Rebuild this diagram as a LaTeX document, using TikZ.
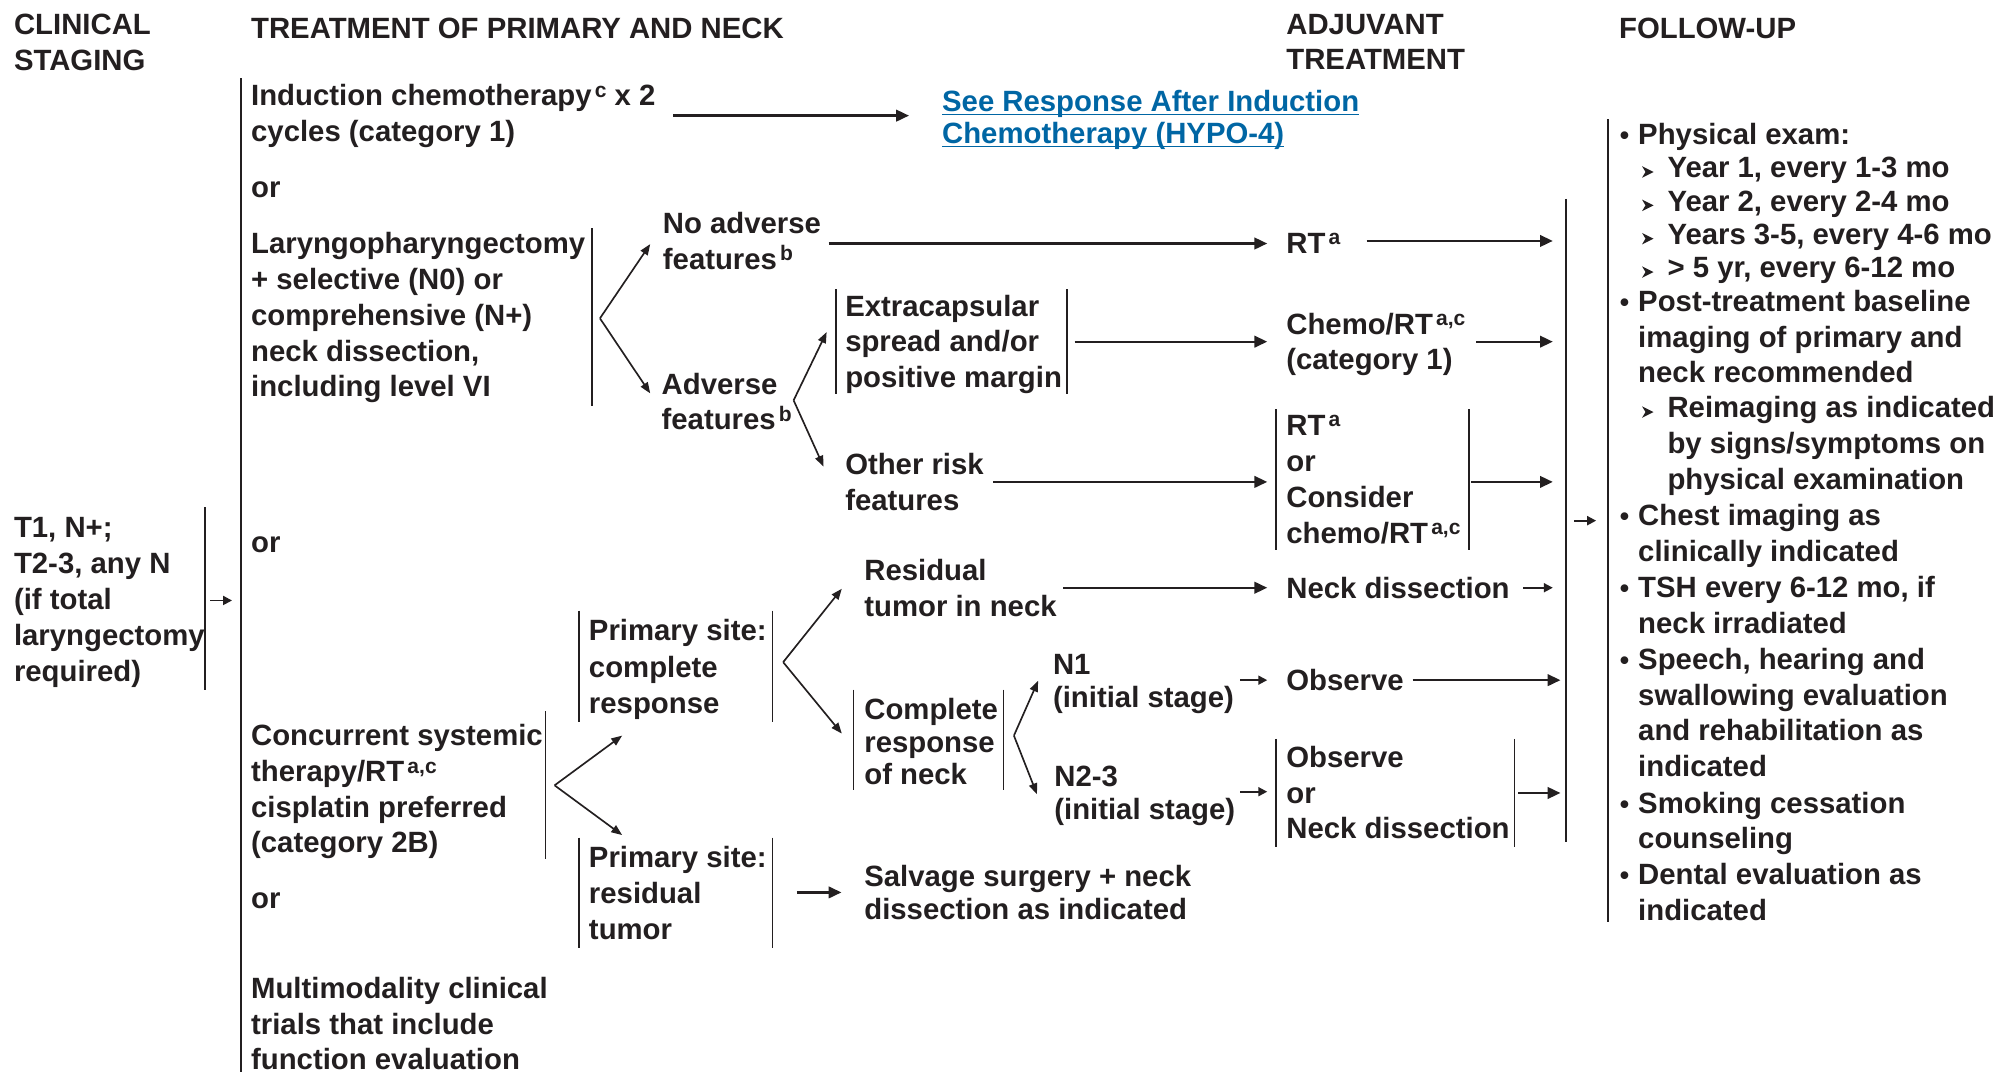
\documentclass[tikz,border=0pt]{standalone}
\usepackage{fontspec}
\setmainfont{Liberation Sans}
\usetikzlibrary{arrows.meta}
\definecolor{ink}{HTML}{231F20}
\definecolor{lnk}{RGB}{0,102,164}
\newcommand\sps[1]{\kern2.5pt\raisebox{6.5pt}{\fontsize{16.5}{16.5}\selectfont #1}}
\newcommand\bul{\llap{\fontsize{21}{21}\selectfont •\kern7pt}}
\newcommand\subarr[2]{\fill[ink] ([shift={(-11,#2)}]#1.north west) -- ++(-9,-4.5) -- ++(2.7,4.5) -- ++(-2.7,4.5) -- cycle;}
\begin{document}
\begin{tikzpicture}[x=1pt,y=-1pt,
 txbase/.style={anchor=north west,inner sep=0pt,outer sep=0pt,align=left,text=ink,
   font=\fontsize{23}{#1}\selectfont\bfseries,execute at begin node={\rule{0pt}{19.6pt}}},
 tx/.style={txbase=#1,yshift=16.6pt},
 tx/.default=28,
 txs/.style={txbase=28,yshift=19.6pt},
 lk/.style={anchor=base west,inner sep=0pt,outer sep=0pt,text=lnk,font=\fontsize{23}{28}\selectfont\bfseries},
 bar/.style={draw=ink,line width=1.3pt},
 arr/.style={draw=ink,line width=1.8pt,-{Triangle[length=10pt,width=9pt]}},
 sarr/.style={draw=ink,line width=1.5pt,-{Triangle[length=7pt,width=7pt]}},
 farr/.style={draw=ink,line width=1.3pt,-{Triangle[length=8.5pt,width=6.5pt]}},
]
\fill[white] (0,0) rectangle (1568,841);
\useasboundingbox (0,0) rectangle (1568,841);

% headers
\node[tx] (h1) at (11,27.5) {CLINICAL\\STAGING};
\node[txs] (h2) at (197,30.5) {TREATMENT OF PRIMARY AND NECK};
\node[tx] (h3) at (1009,27.5) {ADJUVANT\\TREATMENT};
\node[txs] (h4) at (1270,30.5) {FOLLOW-UP};

% staging
\node[tx=28.3] (stage) at (11,422.4) {T1, N+;\\T2-3, any N\\(if total\\laryngectomy\\required)};

% primary treatment options
\node[tx] (ind) at (197,83) {Induction chemotherapy\sps{c} x 2\\cycles (category 1)};
\node[lk] (see1) at (739,87.5) {See Response After Induction};
\node[lk] (see2) at (739,112.5) {Chemotherapy (HYPO-4)};
\draw[lnk,line width=1.1pt] ([yshift=-2.3pt]see1.base west) -- ([yshift=-2.3pt]see1.base east);
\draw[lnk,line width=1.1pt] ([yshift=-2.3pt]see2.base west) -- ([yshift=-2.3pt]see2.base east);
\node[txs] (or1) at (197,155) {or};
\node[tx=28.2] (lar) at (197,198.5) {Laryngopharyngectomy\\+ selective (N0) or\\comprehensive (N+)\\neck dissection,\\including level VI};
\node[tx] (noadv) at (520,183) {No adverse\\features\sps{b}};
\node[tx] (adv) at (519,309) {Adverse\\features\sps{b}};
\node[tx] (ext) at (663,248) {Extracapsular\\spread and/or\\positive margin};
\node[tx] (other) at (663,372) {Other risk\\features};
\node[txs] (rt1) at (1009,198.5) {RT\sps{a}};
\node[tx] (chemo) at (1009,262) {Chemo/RT\sps{a,c}\\(category 1)};
\node[tx=28.3] (rtor) at (1009,342) {RT\sps{a}\\or\\Consider\\chemo/RT\sps{a,c}};
\node[txs] (or2) at (197,433) {or};
\node[tx] (conc) at (197,585) {Concurrent systemic\\therapy/RT\sps{a,c}\\cisplatin preferred\\(category 2B)};
\node[txs] (or3) at (197,713) {or};
\node[tx] (multi) at (197,783) {Multimodality clinical\\trials that include\\function evaluation};
\node[tx=28.5] (ps1) at (462,502.5) {Primary site:\\complete\\response};
\node[tx] (ps2) at (462,680.5) {Primary site:\\residual\\tumor};
\node[tx] (resid) at (678,455.5) {Residual\\tumor in neck};
\node[tx=25.5] (compl) at (678,564.5) {Complete\\response\\of neck};
\node[tx=25.5] (salv) at (678,695.5) {Salvage surgery + neck\\dissection as indicated};
\node[tx=26] (n1) at (826,530) {N1\\(initial stage)};
\node[tx=26] (n23) at (827,617.5) {N2-3\\(initial stage)};
\node[txs] (neckd) at (1009,469.5) {Neck dissection};
\node[txs] (obs1) at (1009,541.5) {Observe};
\node[tx] (obs2) at (1009,602) {Observe\\or\\Neck dissection};

% follow-up
\node[txs] (fu1) at (1285,113.4) {\bul Physical exam:};
\node[txs] (fy1) at (1308,139.5) {Year 1, every 1-3 mo};
\node[txs] (fy2) at (1308,165.7) {Year 2, every 2-4 mo};
\node[txs] (fy3) at (1308,191.8) {Years 3-5, every 4-6 mo};
\node[txs] (fy4) at (1308,218) {> 5 yr, every 6-12 mo};
\node[tx] (fu2) at (1285,244.2) {\bul Post-treatment baseline\\imaging of primary and\\neck recommended};
\node[tx] (fy5) at (1308,327.8) {Reimaging as indicated\\by signs/symptoms on\\physical examination};
\node[tx] (fu3) at (1285,412.5) {\bul Chest imaging as\\clinically indicated};
\node[tx] (fu4) at (1285,468.5) {\bul TSH every 6-12 mo, if\\neck irradiated};
\node[tx] (fu5) at (1285,525.1) {\bul Speech, hearing and\\swallowing evaluation\\and rehabilitation as\\indicated};
\node[tx] (fu6) at (1285,637.8) {\bul Smoking cessation\\counseling};
\node[tx] (fu7) at (1285,693.7) {\bul Dental evaluation as\\indicated};
\subarr{fy1}{15}\subarr{fy2}{15}\subarr{fy3}{15}\subarr{fy4}{15}\subarr{fy5}{12}

% bracket bars
\draw[bar] (189,61.5) -- (189,841);
\draw[bar] (161,398) -- (161,541);
\draw[bar] (464.5,179) -- (464.5,318.5);
\draw[bar] (655.5,227) -- (655.5,309);
\draw[bar] (837,227) -- (837,309);
\draw[bar] (1001,321) -- (1001,431.5);
\draw[bar] (1152,321) -- (1152,431.5);
\draw[bar] (428,558) -- (428,673.5);
\draw[bar] (454,479) -- (454,566);
\draw[bar] (606,479) -- (606,566);
\draw[bar] (454,657) -- (454,743.5);
\draw[bar] (606,657) -- (606,743.5);
\draw[bar] (669.5,541) -- (669.5,620);
\draw[bar] (787,541) -- (787,620);
\draw[bar] (1001,579.5) -- (1001,664);
\draw[bar] (1188,579.5) -- (1188,664);
\draw[bar] (1228.5,156) -- (1228.5,660.5);
\draw[bar] (1261.5,93.6) -- (1261.5,723);

% connector end points
\coordinate (stage-o) at (165,471);   \coordinate (main-i) at (182,471);
\coordinate (ind-o) at (528,90.7);    \coordinate (see-i) at (713,90.7);
\coordinate (lar-v) at (470.6,249.7); \coordinate (noadv-i) at (510,191.5); \coordinate (adv-i) at (510,308.5);
\coordinate (noadv-o) at (650,191);   \coordinate (rt1-i) at (994,191);
\coordinate (rt1-o) at (1072,189);    \coordinate (col-a) at (1218,189);
\coordinate (adv-v) at (622.5,314);   \coordinate (ext-i) at (648.4,260.5); \coordinate (other-i) at (646,366);
\coordinate (ext-o) at (843,268);     \coordinate (chemo-i) at (994,268);
\coordinate (chemo-o) at (1158,268);  \coordinate (col-b) at (1218,268);
\coordinate (other-o) at (779,378);   \coordinate (rtor-i) at (994,378);
\coordinate (rtor-o) at (1154,378);   \coordinate (col-c) at (1218,378);
\coordinate (conc-v) at (435,616);    \coordinate (ps1-i) at (488,577); \coordinate (ps2-i) at (488,655);
\coordinate (ps1-v) at (614.3,519.4); \coordinate (resid-i) at (660.3,461.8); \coordinate (compl-i) at (660.3,575.4);
\coordinate (resid-o) at (834,461);   \coordinate (neckd-i) at (994,461);
\coordinate (neckd-o) at (1195,461);  \coordinate (col-d) at (1218,461);
\coordinate (compl-v) at (795.3,577); \coordinate (n1-i) at (814.3,534); \coordinate (n23-i) at (813.4,623);
\coordinate (n1-o) at (973,533.5);    \coordinate (obs1-i) at (994,533.5);
\coordinate (obs1-o) at (1108,533.5); \coordinate (col-e) at (1224,533.5);
\coordinate (n23-o) at (973,621);     \coordinate (obs2-i) at (994,621);
\coordinate (obs2-o) at (1191,622);   \coordinate (col-f) at (1224,622);
\coordinate (ps2-o) at (625,700);     \coordinate (salv-i) at (660,700);
\coordinate (col-o) at (1235,408.4);  \coordinate (fu-i) at (1252,408.4);

% connectors
\draw[sarr] (stage-o) -- (main-i);
\draw[arr] (ind-o) -- (see-i);
\draw[farr] (lar-v) -- (noadv-i);
\draw[farr] (lar-v) -- (adv-i);
\draw[arr] (noadv-o) -- (rt1-i);
\draw[arr] (rt1-o) -- (col-a);
\draw[farr] (adv-v) -- (ext-i);
\draw[farr] (adv-v) -- (other-i);
\draw[arr] (ext-o) -- (chemo-i);
\draw[arr] (chemo-o) -- (col-b);
\draw[arr] (other-o) -- (rtor-i);
\draw[arr] (rtor-o) -- (col-c);
\draw[farr] (conc-v) -- (ps1-i);
\draw[farr] (conc-v) -- (ps2-i);
\draw[farr] (ps1-v) -- (resid-i);
\draw[farr] (ps1-v) -- (compl-i);
\draw[arr] (resid-o) -- (neckd-i);
\draw[sarr] (neckd-o) -- (col-d);
\draw[farr] (compl-v) -- (n1-i);
\draw[farr] (compl-v) -- (n23-i);
\draw[sarr] (n1-o) -- (obs1-i);
\draw[arr] (obs1-o) -- (col-e);
\draw[sarr] (n23-o) -- (obs2-i);
\draw[arr] (obs2-o) -- (col-f);
\draw[arr] (ps2-o) -- (salv-i);
\draw[sarr] (col-o) -- (fu-i);
\end{tikzpicture}
\end{document}
